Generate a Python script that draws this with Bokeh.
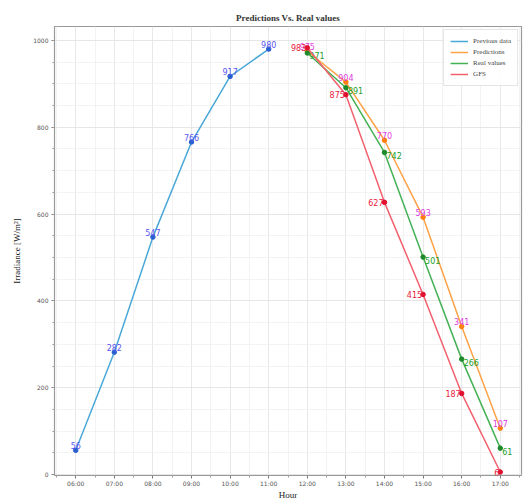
from bokeh.plotting import figure
from bokeh.models import Range1d, FixedTicker, ColumnDataSource, Legend
from bokeh.embed import file_html
from bokeh.resources import INLINE
from bokeh.core.properties import value

# ---- data ----
prev_hours = [6, 7, 8, 9, 10, 11]
prev_vals = [56, 282, 547, 766, 917, 980]
fc_hours = [12, 13, 14, 15, 16, 17]
pred_vals = [975, 904, 770, 593, 341, 107]
real_vals = [971, 891, 742, 501, 266, 61]
gfs_vals = [983, 875, 627, 415, 187, 6]
tick_hours = [6, 7, 8, 9, 10, 11, 12, 13, 14, 15, 16, 17]
tick_labels = ["06:00", "07:00", "08:00", "09:00", "10:00", "11:00",
               "12:00", "13:00", "14:00", "15:00", "16:00", "17:00"]
y_ticks = [0, 200, 400, 600, 800, 1000]

SERIF = "Liberation Serif"
SANS = "DejaVu Sans"

p = figure(width=523, height=502, output_backend="svg", toolbar_location=None,
           x_range=Range1d(5.45, 17.55), y_range=Range1d(-2, 1032),
           min_border_left=54, min_border_right=2, min_border_top=26,
           min_border_bottom=24)

p.title.text = "Predictions Vs. Real values"
p.title.align = "center"
p.title.text_font = SERIF
p.title.text_font_size = "9px"
p.title.text_font_style = "bold"
p.title.text_color = "#333333"
p.title.standoff = 8

p.outline_line_color = "#999999"
p.outline_line_width = 1.2
p.background_fill_color = "white"

# axes
p.xaxis.ticker = FixedTicker(ticks=tick_hours,
                             minor_ticks=[h + 0.5 for h in range(5, 18)])
p.xaxis.major_label_overrides = {h: l for h, l in zip(tick_hours, tick_labels)}
p.yaxis.ticker = FixedTicker(ticks=y_ticks, minor_ticks=list(range(0, 1050, 50)))
for ax in (p.xaxis, p.yaxis):
    ax.major_label_text_font = SANS
    ax.major_label_text_font_size = "6px"
    ax.major_label_text_color = "#555555"
    ax.axis_line_color = None
    ax.major_tick_line_color = "#777777"
    ax.minor_tick_line_color = "#999999"
    ax.major_tick_out = 3
    ax.major_tick_in = 0
    ax.minor_tick_out = 2
    ax.minor_tick_in = 0
    ax.axis_label_text_font = SERIF
    ax.axis_label_text_font_size = "9px"
    ax.axis_label_text_font_style = "normal"
    ax.axis_label_text_color = "#222222"
    ax.major_label_standoff = 3
p.xaxis.axis_label = "Hour"
p.xaxis.axis_label_standoff = 0
p.xaxis.major_label_standoff = 1
p.yaxis.axis_label = "Irradiance [W/m²]"
p.yaxis.axis_label_standoff = 8

p.grid.grid_line_color = "#e2e2e2"
p.grid.grid_line_width = 0.8
p.grid.minor_grid_line_color = "#f0f0f0"
p.grid.minor_grid_line_width = 0.8

# lines
series = [
    ("Previous data", prev_hours, prev_vals, "#4aa8d8", "#2a5fd0", "#5a55f0", "center", 0, -5),
    ("Predictions", fc_hours, pred_vals, "#ffa245", "#ff7f0e", "#e040e0", "center", 0, -5),
    ("Real values", fc_hours, real_vals, "#45b155", "#1c8a2a", "#22a02a", "left", 2, 3),
    ("GFS", fc_hours, gfs_vals, "#f2606e", "#e0102e", "#e8203c", "right", -1, 0),
]
items = []
for name, xs, ys, lc, mc, tc, align, xo, yo in series:
    src = ColumnDataSource(dict(x=xs, y=ys, t=[str(v) for v in ys]))
    r = p.line("x", "y", source=src, line_color=lc, line_width=1.5)
    p.scatter("x", "y", source=src, size=4.5, color=mc)
    p.text("x", "y", text="t", source=src, text_color=tc,
           text_font=value(SANS), text_font_size="8px",
           text_align=align, text_baseline="middle",
           x_offset=xo, y_offset=yo)
    items.append((name, [r]))

legend = Legend(items=items, location="top_right")
legend.label_text_font = SERIF
legend.label_text_font_size = "7px"
legend.label_height = 10
legend.glyph_height = 10
legend.glyph_width = 18
legend.spacing = 1
legend.padding = 6
legend.margin = 3
legend.border_line_color = "#cccccc"
legend.background_fill_alpha = 0.9
p.add_layout(legend)

open("out.html", "w").write(file_html(p, INLINE))
